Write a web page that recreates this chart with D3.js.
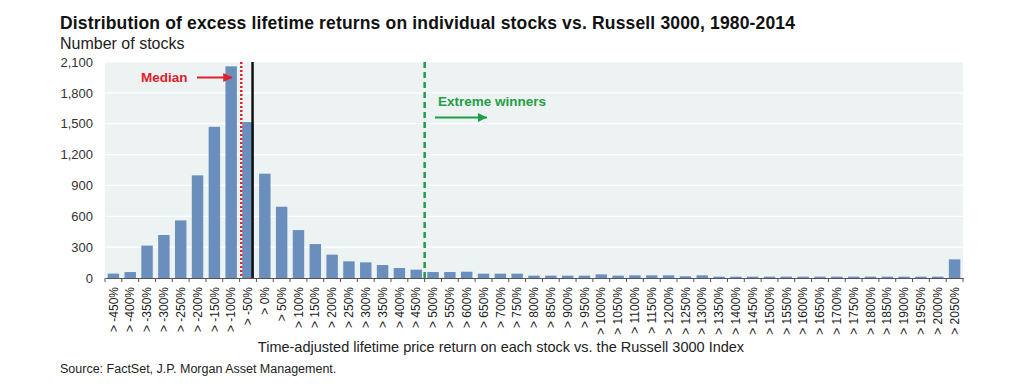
<!DOCTYPE html>
<html><head><meta charset="utf-8">
<script src="https://cdn.jsdelivr.net/npm/d3@7"></script>
<style>
html,body{margin:0;padding:0;background:#fff;}
svg{display:block;font-family:"Liberation Sans",Arial,sans-serif;}
</style></head>
<body>
<svg id="chart" width="1009" height="384"></svg>
<script>
// ---- data ----
const categories = ["> -450%","> -400%","> -350%","> -300%","> -250%","> -200%","> -150%","> -100%","> -50%","> 0%",
"> 50%","> 100%","> 150%","> 200%","> 250%","> 300%","> 350%","> 400%","> 450%","> 500%",
"> 550%","> 600%","> 650%","> 700%","> 750%","> 800%","> 850%","> 900%","> 950%","> 1000%",
"> 1050%","> 1100%","> 1150%","> 1200%","> 1250%","> 1300%","> 1350%","> 1400%","> 1450%","> 1500%",
"> 1550%","> 1600%","> 1650%","> 1700%","> 1750%","> 1800%","> 1850%","> 1900%","> 1950%","> 2000%","> 2050%"];
const counts = [43,58,315,418,560,998,1470,2058,1516,1014,
693,466,330,227,162,152,126,97,81,58,
58,61,42,42,42,23,23,23,23,35,
23,26,26,26,17,26,13,13,13,13,
13,13,13,13,13,13,13,13,13,13,181];
const yTicks = [0,300,600,900,1200,1500,1800,2100];
// reference line positions, in category-index units (bar centre = index)
const medianIdx = 7.6;
const zeroIdx = 8.27;
const winnersIdx = 18.5;

const titleText = "Distribution of excess lifetime returns on individual stocks vs. Russell 3000, 1980-2014";
const subtitleText = "Number of stocks";
const xTitleText = "Time-adjusted lifetime price return on each stock vs. the Russell 3000 Index";
const sourceText = "Source: FactSet, J.P. Morgan Asset Management.";

// ---- layout ----
const svg = d3.select("#chart");
const L = 105, R = 963, T = 62, B = 278;

const x = d3.scaleBand().domain(categories).range([L, R]).paddingInner(0.32).paddingOuter(0.16);
const y = d3.scaleLinear().domain([0, 2100]).range([B, T]);
const xc = i => x(categories[0]) + x.bandwidth()/2 + i * x.step();

// background
svg.append("rect").attr("x", L).attr("y", T).attr("width", R - L).attr("height", B - T).attr("fill", "#edf2f2");

// gridlines
svg.append("g").selectAll("line").data(yTicks.filter(d => d > 0)).join("line")
  .attr("x1", L).attr("x2", R).attr("y1", d => y(d)).attr("y2", d => y(d))
  .attr("stroke", "#ffffff").attr("stroke-width", 1.2);

// y axis
const yAxis = svg.append("g").attr("transform", `translate(${L},0)`)
  .call(d3.axisLeft(y).tickValues(yTicks).tickSize(0).tickPadding(12).tickFormat(d3.format(",")));
yAxis.select(".domain").remove();
yAxis.selectAll("text").attr("font-size", 13).attr("fill", "#333").attr("font-family", "Liberation Sans, Arial, sans-serif");

// bars
svg.append("g").selectAll("rect").data(counts).join("rect")
  .attr("x", (d, i) => x(categories[i]))
  .attr("width", x.bandwidth())
  .attr("y", d => y(d))
  .attr("height", d => B - y(d))
  .attr("fill", "#6b8fbd");

// x axis
const xAxis = svg.append("g").attr("transform", `translate(0,${B})`)
  .call(d3.axisBottom(x).tickSize(0).tickPadding(9));
xAxis.select(".domain").attr("stroke", "#555").attr("stroke-width", 1.2);
xAxis.selectAll("text")
  .attr("font-size", 12).attr("fill", "#222")
  .attr("font-family", "Liberation Sans, Arial, sans-serif")
  .attr("transform", "rotate(-90)")
  .attr("text-anchor", "end")
  .attr("dy", "0.35em")
  .attr("x", -9).attr("y", 0);
// tick marks at band boundaries
const bounds = d3.range(categories.length + 1).map(i => xc(i - 0.5));
xAxis.append("g").selectAll("line").data(bounds).join("line")
  .attr("x1", d => d).attr("x2", d => d).attr("y1", 0).attr("y2", 4)
  .attr("stroke", "#555").attr("stroke-width", 1);

// reference lines
svg.append("line").attr("x1", xc(winnersIdx)).attr("x2", xc(winnersIdx)).attr("y1", T).attr("y2", B)
  .attr("stroke", "#1f9e47").attr("stroke-width", 2.5).attr("stroke-dasharray", "6,4");
svg.append("line").attr("x1", xc(medianIdx)).attr("x2", xc(medianIdx)).attr("y1", T).attr("y2", B)
  .attr("stroke", "#e0202a").attr("stroke-width", 2.5).attr("stroke-dasharray", "2,2");
svg.append("line").attr("x1", xc(zeroIdx)).attr("x2", xc(zeroIdx)).attr("y1", T).attr("y2", B)
  .attr("stroke", "#111").attr("stroke-width", 2.5);

// arrow markers
const defs = svg.append("defs");
[["redArrow", "#e0202a"], ["greenArrow", "#1f9e47"]].forEach(([id, c]) => {
  defs.append("marker").attr("id", id).attr("viewBox", "0 0 10 10").attr("refX", 10).attr("refY", 5)
    .attr("markerWidth", 5).attr("markerHeight", 5).attr("markerUnits", "strokeWidth").attr("orient", "auto")
    .append("path").attr("d", "M0,0 L10,5 L0,10 z").attr("fill", c);
});

// annotations
svg.append("text").attr("x", 141).attr("y", 82).attr("font-size", 13.5).attr("font-weight", "bold")
  .attr("fill", "#e0202a").text("Median");
svg.append("line").attr("x1", 197).attr("x2", xc(medianIdx) - 9).attr("y1", 77.5).attr("y2", 77.5)
  .attr("stroke", "#e0202a").attr("stroke-width", 1.8).attr("marker-end", "url(#redArrow)");

svg.append("text").attr("x", 438).attr("y", 106).attr("font-size", 13.5).attr("font-weight", "bold")
  .attr("fill", "#1f9e47").text("Extreme winners");
svg.append("line").attr("x1", 435).attr("x2", 487).attr("y1", 117.5).attr("y2", 117.5)
  .attr("stroke", "#1f9e47").attr("stroke-width", 1.8).attr("marker-end", "url(#greenArrow)");

// titles
svg.append("text").attr("x", 60).attr("y", 29).attr("font-size", 17.5).attr("font-weight", "bold")
  .attr("fill", "#111").attr("textLength", 735).attr("lengthAdjust", "spacing").text(titleText);
svg.append("text").attr("x", 60).attr("y", 48.5).attr("font-size", 16)
  .attr("fill", "#222").text(subtitleText);
svg.append("text").attr("x", 501).attr("y", 352).attr("font-size", 14.5).attr("text-anchor", "middle")
  .attr("fill", "#222").text(xTitleText);
svg.append("text").attr("x", 60).attr("y", 373).attr("font-size", 12.5)
  .attr("fill", "#222").text(sourceText);
</script>
</body></html>
